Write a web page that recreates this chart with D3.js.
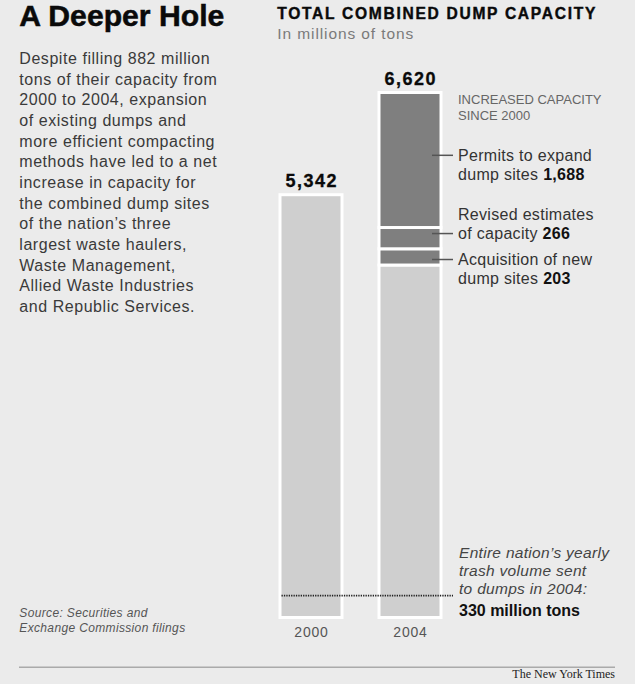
<!DOCTYPE html>
<html>
<head>
<meta charset="utf-8">
<script src="https://cdn.jsdelivr.net/npm/d3@7/dist/d3.min.js"></script>
<style>
  html, body { margin: 0; padding: 0; background: #ebebeb; }
  svg { display: block; font-family: "Liberation Sans", Arial, sans-serif; }
</style>
</head>
<body>
<svg id="chart" width="635" height="684"></svg>
<script>
// ---------- data ----------
const years = ["2000", "2004"];
const totals = [5342, 6620];
// 2004 composition, bottom to top
const segmentNames = ["Existing capacity", "Acquisition of new dump sites", "Revised estimates of capacity", "Permits to expand dump sites"];
const segmentValues = [4463, 203, 266, 1688];
const segmentIncreased = [false, true, true, true];
const trashVolume = 330;

const titleText = "A Deeper Hole";
const chartTitle = "TOTAL COMBINED DUMP CAPACITY";
const chartSubtitle = "In millions of tons";
const bodyLines = [
  "Despite filling 882 million",
  "tons of their capacity from",
  "2000 to 2004, expansion",
  "of existing dumps and",
  "more efficient compacting",
  "methods have led to a net",
  "increase in capacity for",
  "the combined dump sites",
  "of the nation\u2019s three",
  "largest waste haulers,",
  "Waste Management,",
  "Allied Waste Industries",
  "and Republic Services."
];
const increasedHeader = ["INCREASED CAPACITY", "SINCE 2000"];
const segLabelLines = [
  null,
  [["Acquisition of new"], ["dump sites ", "203"]],
  [["Revised estimates"], ["of capacity ", "266"]],
  [["Permits to expand"], ["dump sites ", "1,688"]]
];
const trashNote = ["Entire nation\u2019s yearly", "trash volume sent", "to dumps in 2004:"];
const trashNoteBold = "330 million tons";
const sourceLines = ["Source: Securities and", "Exchange Commission filings"];
const credit = "The New York Times";

// ---------- layout ----------
const svg = d3.select("#chart");
const W = 635, H = 684;
svg.append("rect").attr("width", W).attr("height", H).attr("fill", "#ebebeb");

const y = d3.scaleLinear().domain([0, 6620]).range([622, 92.5]);
const x = d3.scalePoint().domain(years).range([311, 410]);
const barW = 62;
const barBottom = 617.5;
const lightFill = "#cfcfcf";
const darkFill = "#7f7f7f";

// ---------- left text ----------
svg.append("text")
  .attr("x", 19.3).attr("y", 26)
  .attr("font-size", 29.5).attr("font-weight", "bold")
  .attr("fill", "#0a0a0a")
  .attr("stroke", "#0a0a0a").attr("stroke-width", 0.5)
  .attr("textLength", 205).attr("lengthAdjust", "spacingAndGlyphs")
  .text(titleText);

svg.append("g").selectAll("text").data(bodyLines).join("text")
  .attr("x", 19.3)
  .attr("y", (d, i) => 64 + i * 20.65)
  .attr("font-size", 16)
  .attr("letter-spacing", 0.55)
  .attr("fill", "#3a3a3a")
  .text(d => d);

svg.append("g").selectAll("text").data(sourceLines).join("text")
  .attr("x", 19.3)
  .attr("y", (d, i) => 617.3 + i * 14.4)
  .attr("font-size", 12).attr("font-style", "italic")
  .attr("letter-spacing", 0.35)
  .attr("fill", "#555")
  .text(d => d);

// ---------- chart header ----------
svg.append("text")
  .attr("x", 277.3).attr("y", 18.7)
  .attr("font-size", 15.6).attr("font-weight", "bold")
  .attr("fill", "#0a0a0a")
  .attr("stroke", "#0a0a0a").attr("stroke-width", 0.4)
  .attr("textLength", 318).attr("lengthAdjust", "spacing")
  .text(chartTitle);

svg.append("text")
  .attr("x", 277.3).attr("y", 39.3)
  .attr("font-size", 15.5)
  .attr("letter-spacing", 0.9)
  .attr("fill", "#7a7a7a")
  .text(chartSubtitle);

// ---------- bars ----------
const gBars = svg.append("g");
// 2000 bar
gBars.append("rect")
  .attr("x", x(years[0]) - barW / 2)
  .attr("y", y(totals[0]))
  .attr("width", barW)
  .attr("height", barBottom - y(totals[0]))
  .attr("fill", lightFill)
  .attr("stroke", "#fff").attr("stroke-width", 3);

// 2004 stacked bar
const stacked = [];
let acc = 0;
segmentValues.forEach((v, i) => {
  stacked.push({ name: segmentNames[i], y0: acc, y1: acc + v, inc: segmentIncreased[i], idx: i });
  acc += v;
});
gBars.selectAll("rect.seg").data(stacked).join("rect")
  .attr("class", "seg")
  .attr("x", x(years[1]) - barW / 2)
  .attr("y", d => y(d.y1))
  .attr("width", barW)
  .attr("height", d => (d.y0 === 0 ? barBottom : y(d.y0)) - y(d.y1))
  .attr("fill", d => d.inc ? darkFill : lightFill)
  .attr("stroke", "#fff").attr("stroke-width", 3);

// value labels
svg.append("g").selectAll("text").data(years).join("text")
  .attr("x", d => x(d) + 0.8)
  .attr("y", (d, i) => y(totals[i]) - 8)
  .attr("text-anchor", "middle")
  .attr("font-size", 18).attr("font-weight", "bold")
  .attr("letter-spacing", 1.5)
  .attr("fill", "#0a0a0a")
  .attr("stroke", "#0a0a0a").attr("stroke-width", 0.3)
  .text((d, i) => d3.format(",")(totals[i]));

// year labels
svg.append("g").selectAll("text").data(years).join("text")
  .attr("x", d => x(d) + 0.5)
  .attr("y", 636.7)
  .attr("text-anchor", "middle")
  .attr("font-size", 14)
  .attr("letter-spacing", 0.8)
  .attr("fill", "#555")
  .text(d => d);

// ---------- right annotations ----------
const labelX = 458;
svg.append("g").selectAll("text").data(increasedHeader).join("text")
  .attr("x", labelX)
  .attr("y", (d, i) => y(totals[1]) + 11.8 + i * 15.7)
  .attr("font-size", 13)
  .attr("fill", "#666")
  .text(d => d);

// leader placement relative to segment midpoints
const leaderShift = [0, 2.6, -4.6, -4.7];
const anchorLine = [0, 0, 1, 0];
const lineH = 19;
stacked.forEach((d, i) => {
  const lines = segLabelLines[i];
  if (!lines) return;
  const mid = (y(d.y0) + y(d.y1)) / 2;
  const ly = mid + leaderShift[i];
  svg.append("line")
    .attr("x1", x(years[1]) + barW / 2 - 9).attr("x2", labelX - 5)
    .attr("y1", ly).attr("y2", ly)
    .attr("stroke", "#555").attr("stroke-width", 1.5);
  const baseY = ly + 5.5 - anchorLine[i] * lineH;
  lines.forEach((parts, j) => {
    const t = svg.append("text")
      .attr("x", labelX).attr("y", baseY + j * lineH)
      .attr("font-size", 16)
      .attr("letter-spacing", 0.3)
      .attr("fill", "#333");
    t.append("tspan").text(parts[0]);
    if (parts[1]) t.append("tspan").attr("font-weight", "bold").attr("fill", "#111").text(parts[1]);
  });
});

// trash volume line
const ty = y(trashVolume);
svg.append("line")
  .attr("x1", x(years[0]) - barW / 2 + 1.5).attr("x2", 453)
  .attr("y1", ty).attr("y2", ty)
  .attr("stroke", "#222").attr("stroke-width", 1.6)
  .attr("stroke-dasharray", "1.3,1.1");

svg.append("g").selectAll("text").data(trashNote).join("text")
  .attr("x", 459)
  .attr("y", (d, i) => ty - 1.3 + (i - 2) * 18)
  .attr("font-size", 15.5).attr("font-style", "italic")
  .attr("letter-spacing", 0.3)
  .attr("fill", "#444")
  .text(d => d);
svg.append("text")
  .attr("x", 459).attr("y", ty + 20.4)
  .attr("font-size", 16).attr("font-weight", "bold")
  .attr("fill", "#111")
  .text(trashNoteBold);

// ---------- footer ----------
svg.append("line")
  .attr("x1", 19).attr("x2", 615)
  .attr("y1", 667.3).attr("y2", 667.3)
  .attr("stroke", "#aaa").attr("stroke-width", 1.5);
svg.append("text")
  .attr("x", 615).attr("y", 678.3)
  .attr("text-anchor", "end")
  .attr("font-family", "'Liberation Serif', 'Times New Roman', serif")
  .attr("font-size", 12)
  .attr("fill", "#222")
  .text(credit);
</script>
</body>
</html>
